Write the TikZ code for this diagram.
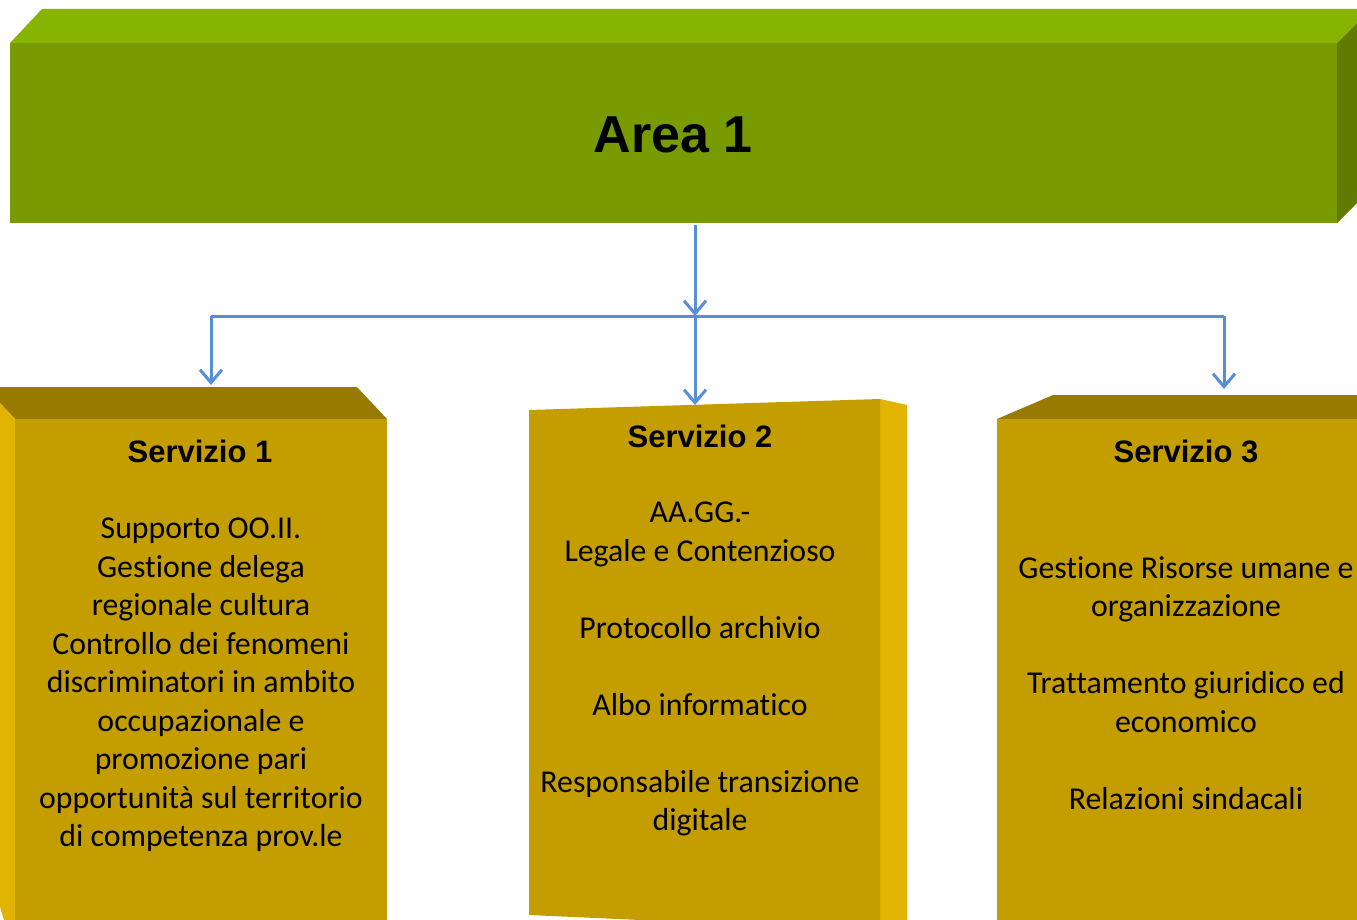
\documentclass[tikz,border=0pt]{standalone}
\usepackage{fontspec}
\setmainfont{Carlito}[Ligatures={NoCommon}]
\newfontfamily\headfont{Liberation Sans}
\usetikzlibrary{arrows.meta}
\definecolor{gfront}{RGB}{119,155,0}
\definecolor{gtop}{RGB}{134,180,0}
\definecolor{gside}{RGB}{96,124,0}
\definecolor{yfront}{RGB}{196,158,0}
\definecolor{ytop}{RGB}{153,122,0}
\definecolor{yside}{RGB}{224,180,0}
\definecolor{conn}{RGB}{88,142,213}
\tikzset{
  connector/.style={draw=conn, line width=3pt, -{Straight Barb[length=13pt,width=22pt,line width=3pt]}},
  plainconn/.style={draw=conn, line width=3pt},
  areatext/.style={font=\headfont\bfseries\fontsize{52}{60}\selectfont, text=black},
  servtitle/.style={font=\headfont\bfseries\fontsize{31}{36}\selectfont, text=black},
  servbody/.style={font=\fontsize{31.8}{38.5}\selectfont, text=black, align=center, inner sep=0pt}
}
\begin{document}
\begin{tikzpicture}[x=1pt,y=-1pt]
\useasboundingbox (0,0) rectangle (1357,920);
\clip (0,0) rectangle (1357,920);
% Area 1 block
\fill[gtop] (10,43) -- (42,9) -- (1371,9) -- (1337,43) -- cycle;
\fill[gside] (1337,43) -- (1371,9) -- (1371,189) -- (1337,223) -- cycle;
\fill[gfront] (10,43) rectangle (1337,223);
\node[areatext] (area) at (673,135) {Area 1};
% Servizio 1 block
\fill[ytop] (-15,387) -- (357,387) -- (387,419) -- (15,419) -- cycle;
\fill[yside] (-15,387) -- (15,419) -- (15,920) -- (4,920) -- (0,907) -- (-15,907) -- cycle;
\fill[yfront] (15,419) rectangle (387,920);
% Servizio 2 block
\fill[yside] (880,399) -- (907,405) -- (907,920) -- (880,920) -- cycle;
\fill[yfront] (529,410) -- (880,399) -- (880,920) -- (640,920) -- (529,915) -- cycle;
% Servizio 3 block
\fill[ytop] (997,419) -- (1053,395) -- (1371,395) -- (1371,419) -- cycle;
\fill[yfront] (997,419) rectangle (1371,920);
% texts
\node[servtitle] (t1) at (200,451) {Servizio 1};
\node[servtitle] (t2) at (700,436) {Servizio 2};
\node[servtitle] (t3) at (1186,451) {Servizio 3};
\node[servbody] (b1) at (201,685) {Supporto OO.II.\\Gestione delega\\regionale cultura\\Controllo dei fenomeni\\discriminatori in ambito\\occupazionale e\\promozione pari\\opportunità sul territorio\\di competenza prov.le};
\node[servbody] (b2) at (700,669) {AA.GG.-\\Legale e Contenzioso\\[38.5pt]Protocollo archivio\\[38.5pt]Albo informatico\\[38.5pt]Responsabile transizione\\digitale};
\node[servbody] (b3) at (1186,683) {Gestione Risorse umane e\\organizzazione\\[38.5pt]Trattamento giuridico ed\\economico\\[38.5pt]Relazioni sindacali};
% connectors
\coordinate (areaB) at (695,225);
\coordinate (hub) at (695,316);
\coordinate (hl) at (211,316);
\coordinate (hr) at (1224,316);
\coordinate (s1) at (211,385);
\coordinate (s2) at (695,405);
\coordinate (s3) at (1224,389);
\draw[plainconn] (hl) -- (hr);
\draw[connector] (areaB) -- (hub);
\draw[connector] (hub) -- (s2);
\draw[connector] (hl) -- (s1);
\draw[connector] (hr) -- (s3);
\end{tikzpicture}
\end{document}
